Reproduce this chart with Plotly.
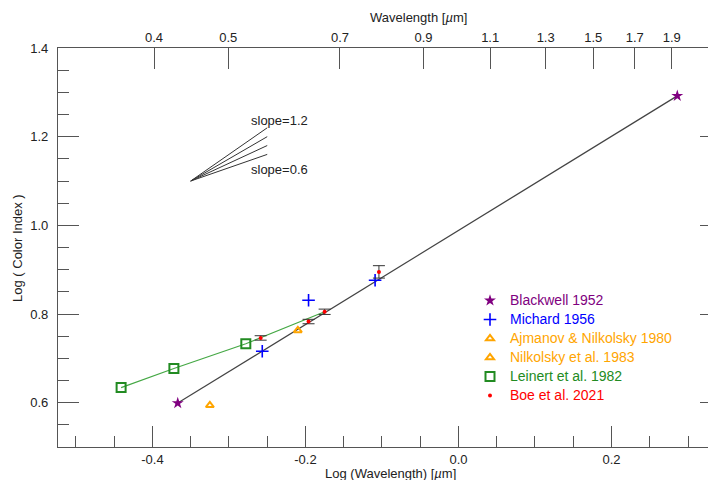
import numpy as np
import plotly.graph_objects as go

# ---------------- data ----------------
blackwell_x = [-0.367, 0.286]
blackwell_y = [0.599, 1.292]

michard_x = [-0.2565, -0.196, -0.109]
michard_y = [0.716, 0.831, 0.876]

ajmanov_x = [-0.325]
ajmanov_y = [0.594]

nikolsky_x = [-0.210]
nikolsky_y = [0.763]

leinert_x = [-0.441, -0.372, -0.278]
leinert_y = [0.634, 0.677, 0.733]
leinert_line_x = [-0.441, -0.372, -0.278, -0.175]
leinert_line_y = [0.634, 0.677, 0.733, 0.805]

boe_x = [-0.2586, -0.196, -0.175, -0.104]
boe_y = [0.746, 0.783, 0.805, 0.895]
boe_err = [0.005, 0.005, 0.006, 0.014]

slopes = [1.2, 1.0, 0.8, 0.6]
slope_x0, slope_y0, slope_dx = -0.35, 1.10, 0.10

top_wavelengths = [0.4, 0.5, 0.7, 0.9, 1.1, 1.3, 1.5, 1.7, 1.9]
bottom_ticks = [-0.4, -0.2, 0.0, 0.2]
bottom_labels = ["-0.4", "-0.2", "0.0", "0.2"]
left_ticks = [0.6, 0.8, 1.0, 1.2, 1.4]
left_labels = ["0.6", "0.8", "1.0", "1.2", "1.4"]

XR = [-0.5235, 0.3366]
YR = [0.5, 1.4]

FONT = "Liberation Sans, Arial, Helvetica, sans-serif"
AX = "#555555"
PURPLE = "#800080"
BLUE = "#0000FF"
ORANGE = "#FFA500"
GREEN = "#228B22"
GREEN_L = "#45a845"
RED = "#FF0000"

# page body has an 8px margin: figure is 708x472 placed at (8,8)
W, H = 708, 472
ML, MT, MB, MR = 50, 40, 33, 0
PW, PH = W - ML - MR, H - MT - MB


def px_x(px):  # screen x -> paper x
    return (px - 8 - ML) / PW


def px_y(py):  # screen y -> paper y
    return (H - MB - (py - 8)) / PH


fig = go.Figure()

# slope fan
for s in slopes:
    fig.add_trace(go.Scatter(x=[slope_x0, slope_x0 + slope_dx],
                             y=[slope_y0, slope_y0 + s * slope_dx],
                             mode="lines", line=dict(color="#333333", width=1),
                             showlegend=False, hoverinfo="skip"))

# Blackwell connecting line
fig.add_trace(go.Scatter(x=blackwell_x, y=blackwell_y, mode="lines",
                         line=dict(color="#444444", width=1.2),
                         showlegend=False, hoverinfo="skip"))
# Leinert line
fig.add_trace(go.Scatter(x=leinert_line_x, y=leinert_line_y, mode="lines",
                         line=dict(color=GREEN_L, width=1.2),
                         showlegend=False, hoverinfo="skip"))


def nm(t, c):
    return "<span style='color:%s;font-size:14px'>%s</span>" % (c, t)


fig.add_trace(go.Scatter(x=blackwell_x, y=blackwell_y, mode="markers",
                         name=nm("Blackwell 1952", PURPLE),
                         marker=dict(symbol="star", size=9, color=PURPLE)))
fig.add_trace(go.Scatter(x=michard_x, y=michard_y, mode="markers",
                         name=nm("Michard 1956", BLUE),
                         marker=dict(symbol="cross-thin", size=9,
                                     line=dict(color=BLUE, width=1.6))))
fig.add_trace(go.Scatter(x=ajmanov_x, y=ajmanov_y, mode="markers",
                         name=nm("Ajmanov &amp; Nilkolsky 1980", ORANGE),
                         marker=dict(symbol="triangle-up-open", size=7,
                                     color=ORANGE, line=dict(width=2))))
fig.add_trace(go.Scatter(x=nikolsky_x, y=nikolsky_y, mode="markers",
                         name=nm("Nilkolsky et al. 1983", ORANGE),
                         marker=dict(symbol="triangle-up-open", size=7,
                                     color=ORANGE, line=dict(width=2))))
fig.add_trace(go.Scatter(x=leinert_x, y=leinert_y, mode="markers",
                         name=nm("Leinert et al. 1982", GREEN),
                         marker=dict(symbol="square-open", size=9,
                                     color=GREEN, line=dict(width=2))))
fig.add_trace(go.Scatter(x=boe_x, y=boe_y, mode="markers",
                         name=nm("Boe et al. 2021", RED),
                         marker=dict(symbol="circle", size=4, color=RED),
                         error_y=dict(type="data", array=boe_err, visible=True,
                                      color="#333333", thickness=1, width=6)))

# top axis helper trace
fig.add_trace(go.Scatter(x=[XR[0]], y=[YR[0]], xaxis="x2", mode="markers",
                         marker=dict(opacity=0), showlegend=False, hoverinfo="skip"))
# right axis helper trace
fig.add_trace(go.Scatter(x=[XR[0]], y=[YR[0]], yaxis="y2", mode="markers",
                         marker=dict(opacity=0), showlegend=False, hoverinfo="skip"))

tickfont = dict(family=FONT, size=13, color="#222222")

fig.update_layout(
    width=W, height=H,
    margin=dict(l=ML, r=MR, t=MT, b=MB, pad=0),
    paper_bgcolor="white", plot_bgcolor="white",
    font=dict(family=FONT, size=13, color="#222222"),
    xaxis=dict(range=XR, showgrid=False, zeroline=False, showline=True,
               linecolor=AX, linewidth=1.3, mirror=False,
               ticks="inside", ticklen=21, tickwidth=1.3, tickcolor=AX,
               tickmode="array", tickvals=bottom_ticks, ticktext=bottom_labels,
               tickfont=tickfont, ticklabelstandoff=0,
               minor=dict(ticks="inside", ticklen=10.5, tickwidth=1.3,
                          tickcolor=AX, dtick=0.05, tick0=0, showgrid=False),
               automargin=False),
    xaxis2=dict(range=XR, overlaying="x", side="top", anchor="y",
                showgrid=False, zeroline=False, showline=True,
                linecolor=AX, linewidth=1.3,
                ticks="inside", ticklen=21, tickwidth=1.3, tickcolor=AX,
                tickmode="array", tickvals=list(np.log10(top_wavelengths)),
                ticktext=[("%.1f" % w) for w in top_wavelengths],
                tickfont=tickfont, automargin=False),
    yaxis=dict(range=YR, showgrid=False, zeroline=False, showline=True,
               linecolor=AX, linewidth=1.3, mirror=False,
               ticks="inside", ticklen=21, tickwidth=1.3, tickcolor=AX,
               tickmode="array", tickvals=left_ticks, ticktext=left_labels,
               tickfont=tickfont, ticklabelstandoff=6,
               minor=dict(ticks="inside", ticklen=10.5, tickwidth=1.3,
                          tickcolor=AX, dtick=0.05, tick0=0, showgrid=False),
               automargin=False),
    yaxis2=dict(range=YR, overlaying="y", side="right", anchor="x",
                showgrid=False, zeroline=False, showline=False,
                ticks="inside", ticklen=16, tickwidth=1.3, tickcolor=AX,
                tickmode="array", tickvals=left_ticks, showticklabels=False,
                minor=dict(ticks="inside", ticklen=6, tickwidth=1.3,
                           tickcolor=AX, dtick=0.05, tick0=0, showgrid=False),
                automargin=False),
    legend=dict(x=px_x(470), y=px_y(286), xanchor="left", yanchor="top",
                bgcolor="rgba(0,0,0,0)", borderwidth=0,
                font=dict(family=FONT, size=12), tracegroupgap=0,
                itemsizing="trace"),
    showlegend=True,
)

txt = dict(family=FONT, size=13, color="#222222")
annos = [
    dict(text="Log (Wavelength) [<i>µ</i>m]", xref="paper", yref="paper",
         x=px_x(390), y=px_y(473.5), showarrow=False,
         xanchor="center", yanchor="middle", font=txt),
    dict(text="Wavelength [<i>µ</i>m]", xref="paper", yref="paper",
         x=px_x(418), y=px_y(18), showarrow=False,
         xanchor="center", yanchor="middle", font=txt),
    dict(text="Log ( Color Index )", xref="paper", yref="paper",
         x=px_x(17), y=px_y(248), showarrow=False, textangle=-90,
         xanchor="center", yanchor="middle", font=txt),
    dict(text="slope=1.2", x=-0.2735, y=1.237, xref="x", yref="y", showarrow=False,
         xanchor="left", yanchor="middle", font=txt),
    dict(text="slope=0.6", x=-0.2735, y=1.127, xref="x", yref="y", showarrow=False,
         xanchor="left", yanchor="middle", font=txt),
]
fig.update_layout(annotations=annos)

fig.write_html("out.html")
